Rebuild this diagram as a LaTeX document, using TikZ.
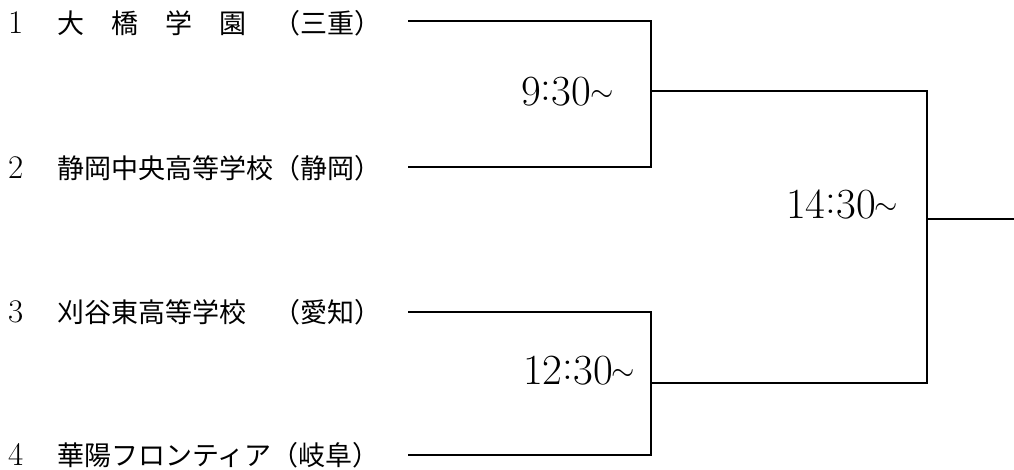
\documentclass[tikz,border=0pt]{standalone}
\usepackage{fix-cm}
\usepackage{fontspec}
\setmainfont{Latin Modern Roman}
\newfontfamily\jp{Noto Sans CJK JP}
\newcommand{\tld}{\raisebox{0.08em}{\fontsize{30}{30}\selectfont$\sim$}}
\begin{document}
\begin{tikzpicture}[x=1pt,y=-1pt,
  team/.style={anchor=base west,inner sep=0pt,font=\fontsize{27}{27}\selectfont},
  seed/.style={anchor=base west,inner sep=0pt,font=\fontsize{33}{33}\selectfont},
  time/.style={anchor=base west,inner sep=0pt,font=\fontsize{43}{43}\selectfont},
  bracket/.style={line width=1.4pt}]
\useasboundingbox (0,0) rectangle (1014,469);
% seeds and team names
\node[seed] (s1) at (8,33) {1};
\node[seed] (s2) at (8,178) {2};
\node[seed] (s3) at (8,322) {3};
\node[seed] (s4) at (8,465) {4};
\node[team] (n1) at (57,33) {\jp 大　橋　学　園　（三重）};
\node[team] (n2) at (57,178) {\jp 静岡中央高等学校（静岡）};
\node[team] (n3) at (57,322) {\jp 刈谷東高等学校　（愛知）};
\node[team] (n4) at (57,465) {\jp 華陽フロンティア（岐阜）};
% bracket points
\coordinate (a1) at (408,21);
\coordinate (a2) at (408,167);
\coordinate (a3) at (408,312);
\coordinate (a4) at (408,455);
\coordinate (j1) at (651,91);
\coordinate (j2) at (651,383);
\coordinate (f) at (927,219);
\coordinate (e) at (1014,219);
\draw[bracket] (a1) -| (j1) |- (a2);
\draw[bracket] (a3) -| (j2) |- (a4);
\draw[bracket] (j1) -| (f) |- (j2);
\draw[bracket] (f) -- (e);
% times
\node[time] (t1) at (521,105) {9\raisebox{.1em}{:}30\kern-1pt\tld};
\node[time] (t2) at (523,384) {12\raisebox{.1em}{:}30\kern-1pt\tld};
\node[time] (t3) at (786,218) {14\raisebox{.1em}{:}30\kern-1pt\tld};
\end{tikzpicture}
\end{document}
